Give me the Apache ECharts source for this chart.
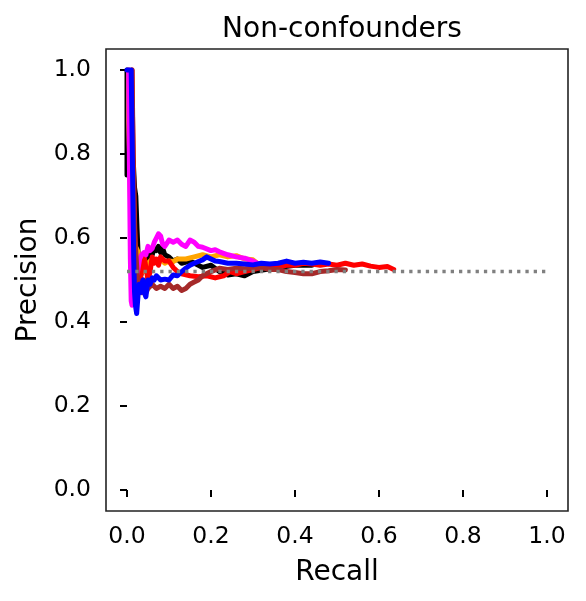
<!DOCTYPE html>
<html>
<head>
<meta charset="utf-8">
<script src="https://cdn.jsdelivr.net/npm/echarts@6/dist/echarts.min.js"></script>
<style>html,body{margin:0;padding:0;background:#fff}#c{width:586px;height:601px}</style>
</head>
<body>
<div id="c"></div>
<script>
const xTicks = [0.0, 0.2, 0.4, 0.6, 0.8, 1.0];
const yTicks = [0.0, 0.2, 0.4, 0.6, 0.8, 1.0];

const blackR = [0, 0, 0.004, 0.008, 0.012, 0.015, 0.018, 0.021, 0.024, 0.027, 0.03, 0.035, 0.04, 0.045, 0.05, 0.055, 0.06, 0.065, 0.07, 0.075, 0.08, 0.085, 0.09, 0.1, 0.11, 0.12, 0.13, 0.15, 0.17, 0.18, 0.2, 0.22, 0.24, 0.26, 0.28, 0.3, 0.33, 0.36, 0.4, 0.44];
const blackP = [1.0, 0.75, 0.76, 0.74, 0.8, 0.78, 0.72, 0.7, 0.62, 0.55, 0.5, 0.52, 0.54, 0.53, 0.56, 0.55, 0.56, 0.575, 0.57, 0.58, 0.565, 0.575, 0.56, 0.555, 0.545, 0.55, 0.54, 0.545, 0.535, 0.53, 0.535, 0.52, 0.512, 0.515, 0.51, 0.52, 0.525, 0.53, 0.535, 0.535];

const orangeR = [0.004, 0.004, 0.006, 0.008, 0.01, 0.013, 0.016, 0.02, 0.025, 0.03, 0.035, 0.04, 0.05, 0.06, 0.07, 0.08, 0.09, 0.1, 0.11, 0.12, 0.14, 0.16, 0.18, 0.2, 0.22, 0.24, 0.26, 0.28, 0.3, 0.31];
const orangeP = [1.0, 0.88, 0.8, 0.7, 0.62, 0.58, 0.6, 0.58, 0.57, 0.55, 0.53, 0.52, 0.54, 0.55, 0.545, 0.55, 0.54, 0.545, 0.544, 0.55, 0.55, 0.555, 0.56, 0.555, 0.56, 0.555, 0.558, 0.55, 0.548, 0.54];

const redR = [0.012, 0.013, 0.015, 0.017, 0.02, 0.023, 0.026, 0.03, 0.033, 0.036, 0.04, 0.045, 0.05, 0.055, 0.06, 0.065, 0.07, 0.075, 0.08, 0.09, 0.1, 0.11, 0.12, 0.13, 0.15, 0.17, 0.19, 0.21, 0.23, 0.245, 0.26, 0.28, 0.3, 0.32, 0.34, 0.36, 0.38, 0.4, 0.42, 0.44, 0.46, 0.48, 0.5, 0.52, 0.54, 0.56, 0.58, 0.6, 0.62, 0.635];
const redP = [1.0, 0.9, 0.78, 0.68, 0.56, 0.5, 0.47, 0.48, 0.51, 0.54, 0.56, 0.53, 0.5, 0.52, 0.555, 0.54, 0.55, 0.535, 0.555, 0.545, 0.545, 0.53, 0.52, 0.515, 0.51, 0.508, 0.51, 0.505, 0.51, 0.52, 0.515, 0.52, 0.525, 0.53, 0.528, 0.532, 0.535, 0.535, 0.54, 0.538, 0.535, 0.538, 0.535, 0.54, 0.535, 0.538, 0.533, 0.53, 0.532, 0.525];

const magentaR = [0.004, 0.006, 0.008, 0.01, 0.012, 0.014, 0.017, 0.02, 0.025, 0.03, 0.035, 0.04, 0.045, 0.05, 0.055, 0.06, 0.065, 0.07, 0.075, 0.08, 0.085, 0.09, 0.1, 0.11, 0.12, 0.13, 0.14, 0.15, 0.16, 0.17, 0.18, 0.2, 0.21, 0.22, 0.24, 0.26, 0.28, 0.3, 0.31, 0.32];
const magentaP = [1.0, 0.75, 0.55, 0.45, 0.44, 0.47, 0.49, 0.5, 0.52, 0.55, 0.56, 0.565, 0.56, 0.58, 0.57, 0.575, 0.59, 0.6, 0.61, 0.605, 0.585, 0.58, 0.595, 0.59, 0.595, 0.585, 0.58, 0.595, 0.59, 0.58, 0.578, 0.57, 0.572, 0.567, 0.56, 0.555, 0.552, 0.545, 0.54, 0.538];

const brownR = [0.012, 0.014, 0.016, 0.018, 0.02, 0.022, 0.025, 0.03, 0.035, 0.04, 0.045, 0.05, 0.06, 0.07, 0.08, 0.09, 0.1, 0.11, 0.12, 0.13, 0.14, 0.15, 0.16, 0.17, 0.18, 0.2, 0.22, 0.24, 0.26, 0.28, 0.3, 0.32, 0.34, 0.36, 0.38, 0.4, 0.42, 0.44, 0.46, 0.48, 0.5, 0.52];
const brownP = [1.0, 0.85, 0.72, 0.62, 0.58, 0.55, 0.5, 0.49, 0.47, 0.5, 0.47, 0.48, 0.49, 0.48, 0.485, 0.48, 0.49, 0.48, 0.485, 0.475, 0.48, 0.49, 0.495, 0.5, 0.51, 0.52, 0.528, 0.525, 0.528, 0.527, 0.528, 0.53, 0.525, 0.525, 0.52, 0.518, 0.515, 0.515, 0.52, 0.522, 0.525, 0.524];

const blueR = [0, 0.01, 0.012, 0.014, 0.016, 0.018, 0.02, 0.023, 0.026, 0.029, 0.032, 0.035, 0.038, 0.041, 0.045, 0.05, 0.055, 0.06, 0.065, 0.07, 0.08, 0.09, 0.1, 0.11, 0.12, 0.13, 0.14, 0.15, 0.16, 0.17, 0.18, 0.19, 0.2, 0.21, 0.22, 0.24, 0.26, 0.28, 0.3, 0.32, 0.34, 0.36, 0.38, 0.4, 0.42, 0.44, 0.46, 0.48];
const blueP = [1.0, 1.0, 0.85, 0.7, 0.55, 0.47, 0.44, 0.42, 0.46, 0.49, 0.47, 0.49, 0.5, 0.47, 0.46, 0.5, 0.49, 0.505, 0.5, 0.51, 0.5, 0.502, 0.5, 0.512, 0.51, 0.52, 0.528, 0.535, 0.54, 0.544, 0.548, 0.555, 0.55, 0.545, 0.544, 0.54, 0.54, 0.538, 0.536, 0.54, 0.538, 0.54, 0.545, 0.54, 0.542, 0.54, 0.543, 0.54];

const baseR = [0.0, 1.0];
const baseP = [0.52, 0.52];

const zip = (a, b) => a.map((v, i) => [v, b[i]]);
const FONT = 'DejaVu Sans';

function curve(name, r, p, color, z) {
  return {
    name, type: 'line', data: zip(r, p), showSymbol: false, symbol: 'none',
    lineStyle: { color, width: 5, join: 'round', cap: 'round' }, z, silent: true, animation: false
  };
}

const chart = echarts.init(document.getElementById('c'), null, { renderer: 'canvas' });
chart.setOption({
  animation: false,
  backgroundColor: '#ffffff',
  title: {
    text: 'Non-confounders', left: 337, top: 11, textAlign: 'center',
    textStyle: { fontFamily: FONT, fontSize: 28, fontWeight: 'normal', color: '#000' }
  },
  grid: { left: 106, right: 18, top: 49, bottom: 90, show: true, borderColor: '#222', borderWidth: 1.6, backgroundColor: 'transparent' },
  xAxis: {
    type: 'value', min: -0.05, max: 1.05,
    name: 'Recall', nameLocation: 'middle', nameGap: 48,
    nameTextStyle: { fontFamily: FONT, fontSize: 28, color: '#000' },
    axisLine: { show: false },
    splitLine: { show: false },
    axisTick: { show: true, customValues: xTicks, length: 7, inside: false, lineStyle: { color: '#000', width: 2 } },
    axisLabel: { customValues: xTicks, formatter: v => v.toFixed(1), fontFamily: FONT, fontSize: 23.5, color: '#000', margin: 14 }
  },
  yAxis: {
    type: 'value', min: -0.05, max: 1.05,
    name: 'Precision', nameLocation: 'middle', nameGap: 58, nameRotate: 90,
    nameTextStyle: { fontFamily: FONT, fontSize: 28, color: '#000' },
    axisLine: { show: false },
    splitLine: { show: false },
    axisTick: { show: true, customValues: yTicks, length: 7, inside: false, lineStyle: { color: '#000', width: 2 } },
    axisLabel: { customValues: yTicks, formatter: v => v.toFixed(1), fontFamily: FONT, fontSize: 23.5, color: '#000', margin: 15 }
  },
  series: [
    curve('black', blackR, blackP, '#000000', 2),
    curve('orange', orangeR, orangeP, '#FFA500', 3),
    curve('red', redR, redP, '#FF0000', 4),
    curve('magenta', magentaR, magentaP, '#FF00FF', 5),
    curve('brown', brownR, brownP, '#A52A2A', 6),
    curve('blue', blueR, blueP, '#0000FF', 7),
    {
      name: 'baseline', type: 'line', data: zip(baseR, baseP), showSymbol: false, symbol: 'none', z: 8,
      lineStyle: { color: '#808080', width: 3.5, type: [3.3, 5], cap: 'butt' }, silent: true
    }
  ]
});
</script>
</body>
</html>
